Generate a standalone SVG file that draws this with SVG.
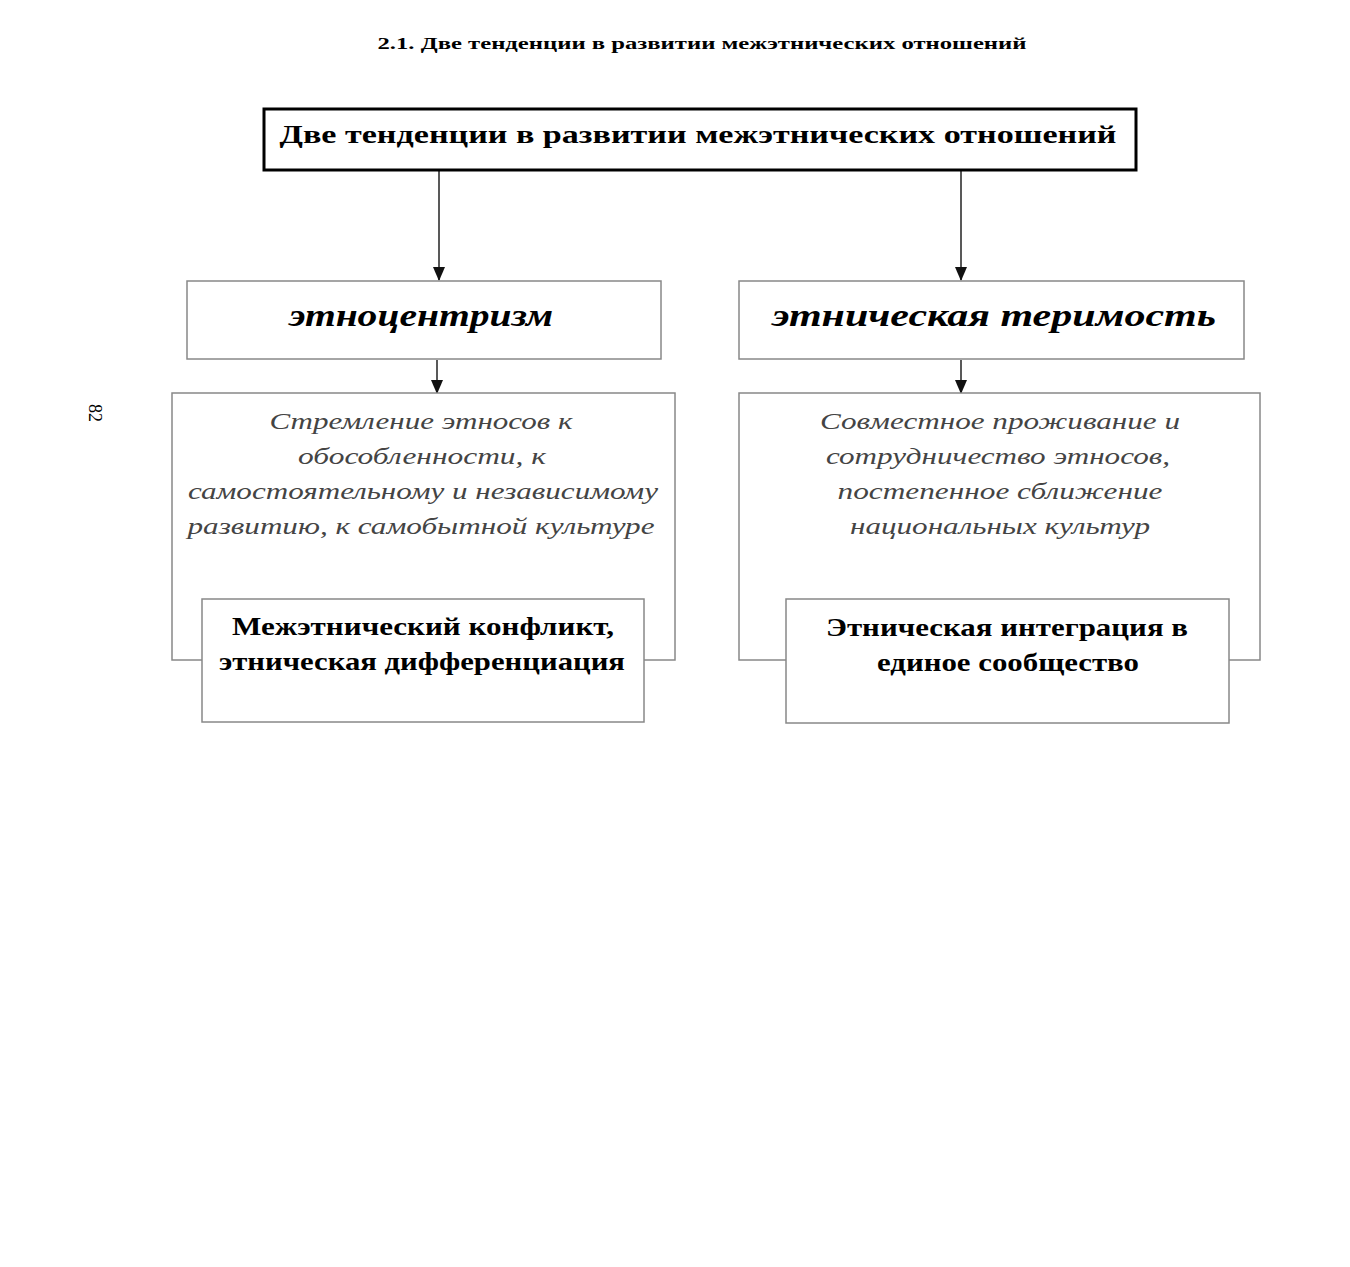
<svg xmlns="http://www.w3.org/2000/svg" width="1350" height="1267" viewBox="0 0 1350 1267">
<style>
.bg{fill:#fff}
.box{fill:#fff;stroke:#888;stroke-width:1.5}
.main{fill:#fff;stroke:#000;stroke-width:3}
.t{font-family:"Liberation Serif",serif;text-anchor:middle;fill:#000}
.b{font-weight:bold}
.bi{font-weight:bold;font-style:italic}
.i{font-style:italic;fill:#444}
.conn{stroke:#222;stroke-width:1.5;fill:none}
</style>
<defs>
<marker id="a2" markerWidth="14" markerHeight="14" refX="13" refY="7" orient="auto" markerUnits="userSpaceOnUse" viewBox="0 0 14 14">
<path d="M0,1 L14,7 L0,13 Z" fill="#111"/>
</marker>
</defs>
<rect class="bg" x="0" y="0" width="1350" height="1267"/>
<text class="t b" x="702" y="49" font-size="17" textLength="649" lengthAdjust="spacingAndGlyphs">2.1. Две тенденции в развитии межэтнических отношений</text>
<text class="t" x="0" y="0" font-size="18" transform="translate(89 413) rotate(90)" fill="#555">82</text>
<g id="connectors">
<line class="conn" x1="439" y1="171" x2="439" y2="280" marker-end="url(#a2)"/>
<line class="conn" x1="961" y1="171" x2="961" y2="280" marker-end="url(#a2)"/>
<line class="conn" x1="437" y1="360" x2="437" y2="393" marker-end="url(#a2)"/>
<line class="conn" x1="961" y1="360" x2="961" y2="393" marker-end="url(#a2)"/>
</g>
<g id="top">
<rect class="main" x="264" y="109" width="872" height="61"/>
<text class="t b" x="698" y="143" font-size="26" textLength="837" lengthAdjust="spacingAndGlyphs">Две тенденции в развитии межэтнических отношений</text>
</g>
<g id="ethnocentrism">
<rect class="box" x="187" y="281" width="474" height="78"/>
<text class="t bi" x="421" y="326" font-size="31" textLength="264" lengthAdjust="spacingAndGlyphs">этноцентризм</text>
</g>
<g id="tolerance">
<rect class="box" x="739" y="281" width="505" height="78"/>
<text class="t bi" x="994" y="326" font-size="31" textLength="444" lengthAdjust="spacingAndGlyphs">этническая теримость</text>
</g>
<g id="left-desc">
<rect class="box" x="172" y="393" width="503" height="267"/>
<text class="t i" x="421" y="429" font-size="24" textLength="303" lengthAdjust="spacingAndGlyphs">Стремление этносов к</text>
<text class="t i" x="422" y="464" font-size="24" textLength="248" lengthAdjust="spacingAndGlyphs">обособленности, к</text>
<text class="t i" x="423" y="499" font-size="24" textLength="470" lengthAdjust="spacingAndGlyphs">самостоятельному и независимому</text>
<text class="t i" x="421" y="534" font-size="24" textLength="467" lengthAdjust="spacingAndGlyphs">развитию, к самобытной культуре</text>
</g>
<g id="right-desc">
<rect class="box" x="739" y="393" width="521" height="267"/>
<text class="t i" x="1000" y="429" font-size="24" textLength="360" lengthAdjust="spacingAndGlyphs">Совместное проживание и</text>
<text class="t i" x="998" y="464" font-size="24" textLength="344" lengthAdjust="spacingAndGlyphs">сотрудничество этносов,</text>
<text class="t i" x="1000" y="499" font-size="24" textLength="325" lengthAdjust="spacingAndGlyphs">постепенное сближение</text>
<text class="t i" x="1000" y="534" font-size="24" textLength="300" lengthAdjust="spacingAndGlyphs">национальных культур</text>
</g>
<g id="conflict">
<rect class="box" x="202" y="599" width="442" height="123"/>
<text class="t b" x="423" y="635" font-size="25" textLength="382" lengthAdjust="spacingAndGlyphs">Межэтнический конфликт,</text>
<text class="t b" x="422" y="670" font-size="25" textLength="406" lengthAdjust="spacingAndGlyphs">этническая дифференциация</text>
</g>
<g id="integration">
<rect class="box" x="786" y="599" width="443" height="124"/>
<text class="t b" x="1007" y="636" font-size="25" textLength="362" lengthAdjust="spacingAndGlyphs">Этническая интеграция в</text>
<text class="t b" x="1008" y="671" font-size="25" textLength="262" lengthAdjust="spacingAndGlyphs">единое сообщество</text>
</g>
</svg>
